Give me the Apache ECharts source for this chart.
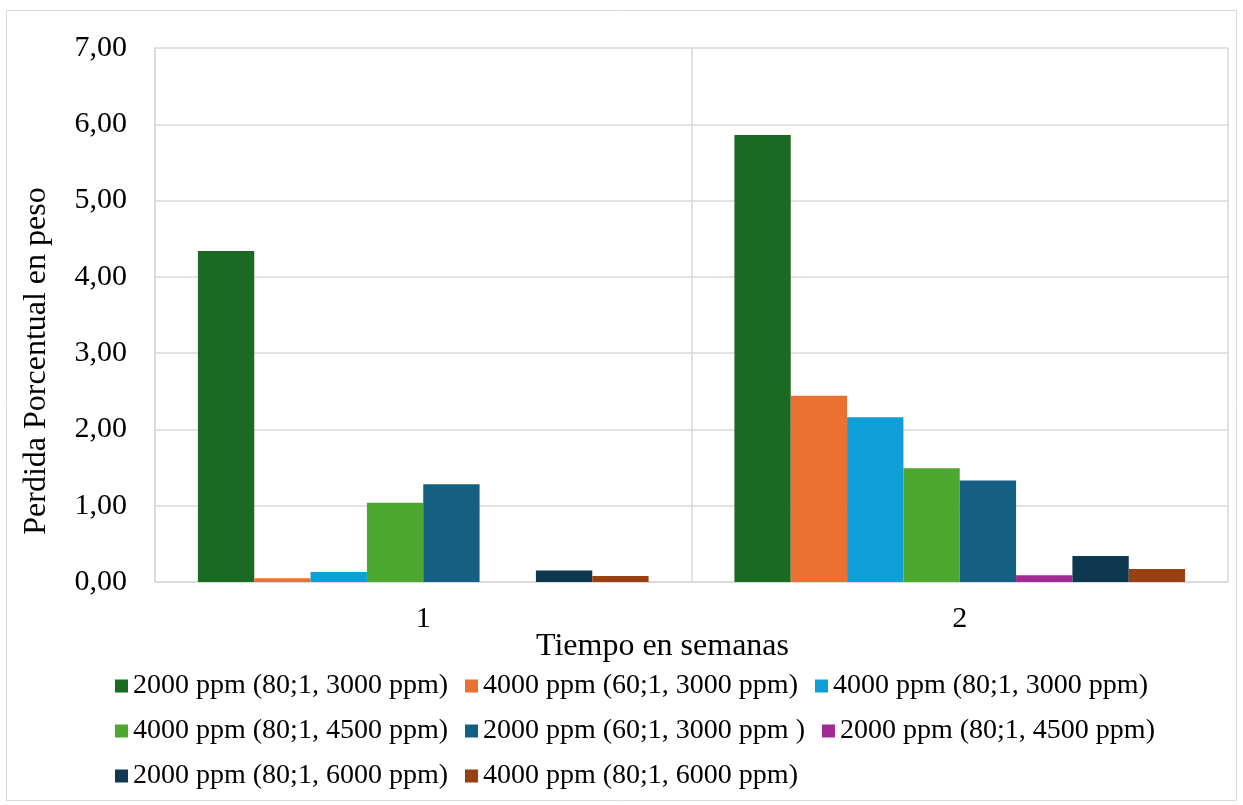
<!DOCTYPE html>
<html>
<head>
<meta charset="utf-8">
<script src="https://cdn.jsdelivr.net/npm/echarts@6/dist/echarts.min.js"></script>
<style>
  html, body { margin: 0; padding: 0; background: #ffffff; }
  #chart { width: 1243px; height: 805px; }
</style>
</head>
<body>
<div id="chart"></div>
<script>
// Weeks on the category axis
const weeks = ['1', '2'];

// Weight loss (%) for each treatment, week 1 and week 2
const s2000_80_3000 = [4.34, 5.86];
const s4000_60_3000 = [0.05, 2.44];
const s4000_80_3000 = [0.13, 2.16];
const s4000_80_4500 = [1.04, 1.49];
const s2000_60_3000 = [1.28, 1.33];
const s2000_80_4500 = [0.00, 0.09];
const s2000_80_6000 = [0.15, 0.34];
const s4000_80_6000 = [0.08, 0.17];

const seriesNames = [
  '2000 ppm (80;1, 3000 ppm)',
  '4000 ppm (60;1, 3000 ppm)',
  '4000 ppm (80;1, 3000 ppm)',
  '4000 ppm (80;1, 4500 ppm)',
  '2000 ppm (60;1, 3000 ppm )',
  '2000 ppm (80;1, 4500 ppm)',
  '2000 ppm (80;1, 6000 ppm)',
  '4000 ppm (80;1, 6000 ppm)'
];
const seriesValues = [
  s2000_80_3000, s4000_60_3000, s4000_80_3000, s4000_80_4500,
  s2000_60_3000, s2000_80_4500, s2000_80_6000, s4000_80_6000
];
const seriesColors = [
  '#1b6a23', '#e97132', '#0f9ed5', '#4ea72e',
  '#156082', '#a02b93', '#0e384f', '#974011'
];

const fontFamily = '"Liberation Serif", "Times New Roman", serif';
const chart = echarts.init(document.getElementById('chart'));

chart.setOption({
  backgroundColor: '#ffffff',
  animation: false,
  textStyle: { fontFamily: fontFamily, color: '#000000' },
  graphic: [{
    type: 'rect',
    shape: { x: 6.5, y: 10.5, width: 1230, height: 790 },
    style: { fill: 'none', stroke: '#d9d9d9', lineWidth: 1 },
    silent: true
  }],
  grid: { left: 155, right: 15, top: 48, bottom: 223, containLabel: false },
  legend: {
    left: 110,
    top: 667,
    width: 1045,
    itemWidth: 13,
    itemHeight: 13,
    itemGap: 17,
    icon: 'rect',
    textStyle: { fontFamily: fontFamily, fontSize: 28, color: '#000000', padding: [0, 0, 0, 0] },
    data: seriesNames
  },
  xAxis: {
    type: 'category',
    data: weeks,
    name: 'Tiempo en semanas',
    nameLocation: 'middle',
    nameGap: 49,
    nameMoveOverlap: false,
    nameTextStyle: { fontFamily: fontFamily, fontSize: 32, color: '#000000', padding: [0, 58, 0, 0] },
    axisLine: { show: true, lineStyle: { color: '#d9d9d9', width: 1.5 } },
    axisTick: { show: false },
    axisLabel: { fontFamily: fontFamily, fontSize: 30, color: '#000000', margin: 22 },
    splitLine: { show: true, lineStyle: { color: '#d9d9d9', width: 1.5 } }
  },
  yAxis: {
    type: 'value',
    min: 0,
    max: 7,
    interval: 1,
    name: 'Perdida Porcentual en peso',
    nameLocation: 'middle',
    nameGap: 102,
    nameRotate: 90,
    nameMoveOverlap: false,
    nameTextStyle: { fontFamily: fontFamily, fontSize: 32, color: '#000000', padding: [0, 92, 0, 0] },
    axisLine: { show: true, lineStyle: { color: '#d9d9d9', width: 1.5 } },
    axisTick: { show: false },
    axisLabel: {
      fontFamily: fontFamily, fontSize: 30, color: '#000000', margin: 28,
      formatter: function (v) { return v.toFixed(2).replace('.', ','); }
    },
    splitLine: { show: true, lineStyle: { color: '#d9d9d9', width: 1.5 } }
  },
  series: seriesNames.map(function (name, i) {
    return {
      name: name,
      type: 'bar',
      data: seriesValues[i],
      barGap: '0%',
      barCategoryGap: '16%',
      itemStyle: { color: seriesColors[i] }
    };
  })
});
</script>
</body>
</html>
